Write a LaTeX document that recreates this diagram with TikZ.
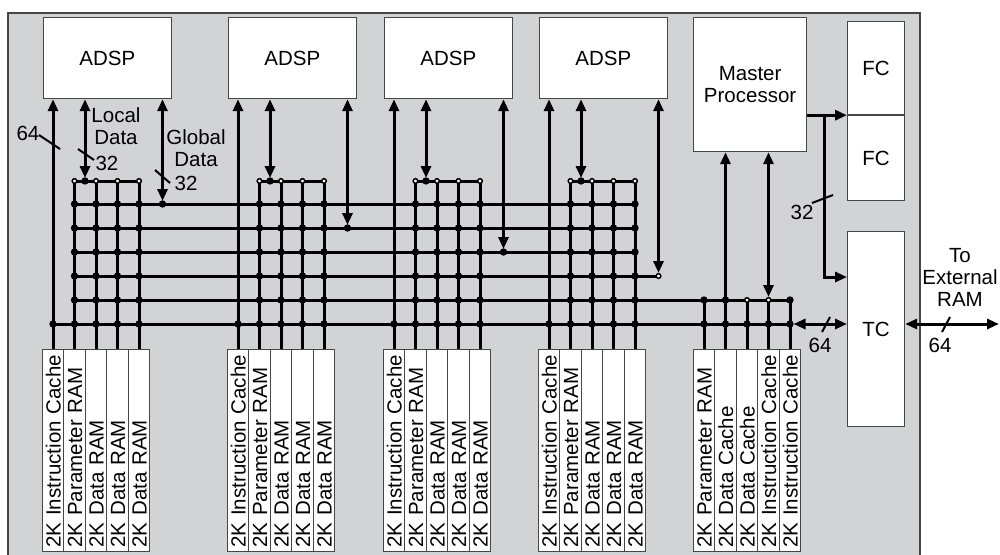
\documentclass[tikz,border=0pt]{standalone}
\usepackage{fontspec}
\setmainfont{Liberation Sans}
\usetikzlibrary{arrows.meta}

\definecolor{panel}{RGB}{210,211,213}
\definecolor{edge}{RGB}{70,70,70}
\newcommand{\LabelFont}{\fontsize{20.5}{22}\selectfont}

\tikzset{
  box/.style={draw=edge, line width=1.2pt, fill=white, inner sep=0pt, font=\LabelFont, align=center},
  memblk/.style={box, rotate=90, minimum width=202pt, minimum height=21.5pt,
    text width=194pt, inner xsep=4pt, text height=15pt, text depth=0pt, align=left},
  bus/.style={line width=3pt},
  odot/.style={draw=black, fill=white, line width=1.5pt},
  slash/.style={line width=2pt},
  lbl/.style={font=\LabelFont, align=center, inner sep=0pt}
}

\begin{document}
\begin{tikzpicture}[x=1pt, y=-1pt, >={Triangle[length=12pt,width=10pt]}]
    \useasboundingbox (0,0) rectangle (1000,554);
    % chip outline
    \draw[draw=edge, line width=1.5pt, fill=panel] (8,13) rectangle (920,580);

    % bus rows
    \foreach \r/\y in {top/181,r1/204,r2/228,r3/252,r4/276,r5/300,r6/324}
    \coordinate (\r) at (0,\y);

    % ADSPs and their memories
    \foreach \g/\ix in {1/53,2/238,3/394,4/549} {
        \node[box, anchor=north west, minimum width=127.5pt, minimum height=81pt] (adsp\g) at (\ix-10,17) {ADSP};
        \foreach \k/\txt in {0/2K Instruction Cache,1/2K Parameter RAM,2/2K Data RAM,3/2K Data RAM,4/2K Data RAM}
        \node[memblk, anchor=east] (m\g-\k) at (\ix+21.5*\k,349) {\mbox{\txt}};
        \coordinate (l\g) at (\ix+32,181);
        \coordinate (gd\g) at (\ix+109.5,180+24*\g);
    }

    % master processor and its memories
    \node[box, anchor=north west, minimum width=113pt, minimum height=134pt] (mp) at (693,17) {Master\\Processor};
    \foreach \k/\txt in {0/2K Parameter RAM,1/2K Data Cache,2/2K Data Cache,3/2K Instruction Cache,4/2K Instruction Cache}
    \node[memblk, anchor=east] (m5-\k) at (704+21.5*\k,349) {\mbox{\txt}};

    % FC and TC
    \node[box, anchor=north west, minimum width=57pt, minimum height=93pt] (fc1) at (847,21) {FC};
    \node[box, anchor=north west, minimum width=57pt, minimum height=85pt] (fc2) at (fc1.south west) {FC};
    \node[box, anchor=north west, minimum width=57pt, minimum height=195pt] (tc) at (847,231) {TC};

    % horizontal buses
    \foreach \r in {r1,r2,r3}
    \draw[bus] (m1-1.east |- \r) -- (m4-4.east |- \r);
    \draw[bus] (m1-1.east |- r4) -- (gd4);
    \draw[bus] (m1-1.east |- r5) -- (m5-4.east |- r5);
    \draw[bus] (m1-0.east |- r6) -- (m5-4.east |- r6);

    % crossbars and ADSP ports
    \foreach \g in {1,...,4} {
        \draw[bus] (m\g-1.east |- top) -- (m\g-4.east |- top);
        \foreach \k in {1,...,4}
        \draw[bus] (m\g-\k.east) -- (m\g-\k.east |- top);
        \draw[bus,->] (m\g-0.east) -- (m\g-0.east |- adsp\g.south);
        \draw[bus,<->,shorten >=3pt] (l\g |- adsp\g.south) -- (l\g);
        \draw[bus,<->,shorten >=3pt] (gd\g |- adsp\g.south) -- (gd\g);
    }

    % master ports
    \foreach \k in {0,2,3,4}
    \draw[bus] (m5-\k.east) -- (m5-\k.east |- r5);
    \draw[bus,->] (m5-1.east) -- (m5-1.east |- mp.south);
    \draw[bus,<->,shorten >=3pt] (m5-3.east |- mp.south) -- (m5-3.east |- r5);

    % links to FC, TC and external RAM
    \coordinate (split) at (824,114);
    \coordinate (tcin) at (847,277);
    \coordinate (ext) at (999,324);
    \draw[bus,<->,shorten <=3.5pt] (m5-4.east |- r6) -- (tc.west |- r6);
    \draw[bus,->] (mp.east |- fc1.south) -- (fc1.south west);
    \draw[bus,->] (split) -- (split |- tcin) -- (tcin);
    \draw[bus,<->] (tc.east |- r6) -- (ext);

    % junction dots
    \foreach \g in {1,...,4} {
        \foreach \k in {1,...,4} {
            \filldraw[odot] (m\g-\k.east |- top) circle[radius=2.3pt];
            \foreach \r in {r1,r2,r3,r4,r5,r6}
            \fill (m\g-\k.east |- \r) circle[radius=3.7pt];
        }
        \fill (m\g-0.east |- r6) circle[radius=3.7pt];
        \fill (l\g) circle[radius=3.7pt];
    }
    \foreach \g in {1,2,3}
    \fill (gd\g) circle[radius=3.7pt];
    \filldraw[odot] (gd4) circle[radius=2.3pt];
    \foreach \k in {0,...,4}
    \fill (m5-\k.east |- r6) circle[radius=3.7pt];
    \foreach \k in {0,1,4}
    \fill (m5-\k.east |- r5) circle[radius=3.7pt];
    \foreach \k in {2,3}
    \filldraw[odot] (m5-\k.east |- r5) circle[radius=2.3pt];

    % bus widths
    \draw[slash] (39,135) -- (60,149);
    \node[lbl] (w64a) at (28,133) {64};
    \node[lbl] (locdata) at (116,126) {Local\\Data};
    \draw[slash] (78,149) -- (94,160);
    \node[lbl] (w32a) at (107,163) {32};
    \node[lbl] (globdata) at (196,148) {Global\\Data};
    \draw[slash] (155,170) -- (170,183);
    \node[lbl] (w32b) at (186,183) {32};
    \draw[slash] (812,203) -- (833,195);
    \node[lbl] (w32c) at (802,212) {32};
    \draw[slash] (822,332) -- (830,317);
    \node[lbl] (w64b) at (820,345) {64};
    \draw[slash] (942,332) -- (950,317);
    \node[lbl] (w64c) at (940,345) {64};
    \node[lbl] (extram) at (960,277) {To\\External\\RAM};
\end{tikzpicture}
\end{document}
